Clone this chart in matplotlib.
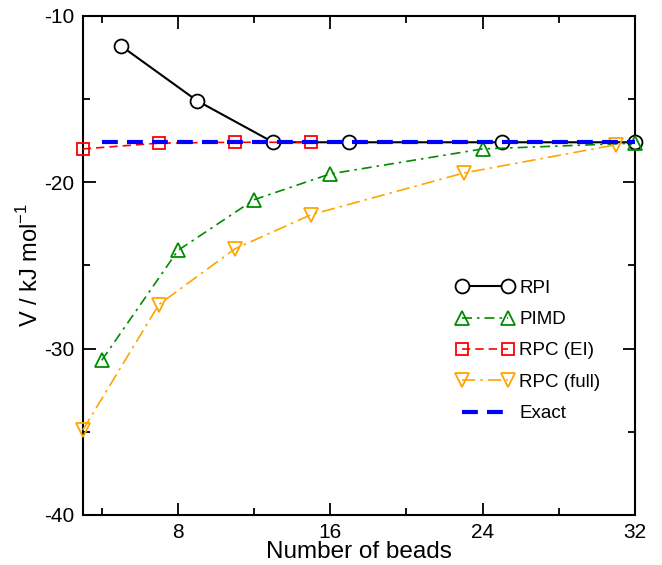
import matplotlib
matplotlib.use("Agg")
import matplotlib.pyplot as plt
from matplotlib.ticker import MultipleLocator

plt.rcParams["font.family"] = ["Liberation Sans", "DejaVu Sans"]
plt.rcParams["font.size"] = 14
plt.rcParams["axes.unicode_minus"] = False

# Data
rpi_x = [5, 9, 13, 17, 25, 32]
rpi_y = [-11.8, -15.1, -17.6, -17.6, -17.6, -17.6]

pimd_x = [4, 8, 12, 16, 24, 32]
pimd_y = [-30.7, -24.1, -21.05, -19.5, -18.0, -17.65]

rpc_ei_x = [3, 7, 11, 15]
rpc_ei_y = [-18.0, -17.65, -17.6, -17.6]

rpc_full_x = [3, 7, 11, 15, 23, 31]
rpc_full_y = [-34.9, -27.35, -24.0, -21.95, -19.45, -17.75]

exact_x = [4, 32]
exact_y = [-17.6, -17.6]

fig = plt.figure(figsize=(6.62, 5.65), dpi=100)
ax = fig.add_axes([0.125, 0.0885, 0.834, 0.8835])

ax.plot(rpi_x, rpi_y, color="black", lw=1.5, marker="o", ms=10,
        mfc="white", mec="black", mew=1.3, label="RPI", zorder=3, clip_on=False)
ax.plot(pimd_x, pimd_y, color="#008c00", lw=1.2, ls=(0, (6, 3, 1.5, 3)),
        marker="^", ms=10, mfc="none", mec="#008c00", mew=1.3, label="PIMD",
        zorder=3, clip_on=False)
ax.plot(rpc_ei_x, rpc_ei_y, color="#ff0000", lw=1.2, ls=(0, (5, 3)),
        marker="s", ms=9, mfc="none", mec="#ff0000", mew=1.3, label="RPC (EI)",
        zorder=3, clip_on=False)
ax.plot(rpc_full_x, rpc_full_y, color="#ffa500", lw=1.2, ls=(0, (8, 3, 1.5, 3)),
        marker="v", ms=10, mfc="none", mec="#ffa500", mew=1.3, label="RPC (full)",
        zorder=3, clip_on=False)
ax.plot(exact_x, exact_y, color="#0000ff", lw=3, ls=(0, (3.8, 2.2)),
        label="Exact", zorder=4)

ax.set_xlim(3, 32)
ax.set_ylim(-40, -10)
ax.xaxis.set_major_locator(MultipleLocator(8))
ax.xaxis.set_minor_locator(MultipleLocator(4))
ax.yaxis.set_major_locator(MultipleLocator(10))
ax.yaxis.set_minor_locator(MultipleLocator(5))
ax.tick_params(which="both", direction="in", top=True, right=True, width=1.3)
ax.tick_params(which="major", length=9, labelsize=15, pad=6)
ax.tick_params(which="minor", length=5)
for s in ax.spines.values():
    s.set_linewidth(1.5)

ax.set_xlabel("Number of beads", fontsize=17.5, labelpad=-1)
ax.set_ylabel("V / kJ mol$^{\\mathregular{-1}}$", fontsize=17, labelpad=1)

ax.legend(loc="upper left", bbox_to_anchor=(0.664, 0.535),
          bbox_transform=fig.transFigure, frameon=False,
          numpoints=2, handlelength=3.05, fontsize=13.5, labelspacing=0.76,
          handletextpad=0.3, borderpad=0.4)

fig.savefig("out.png", dpi=100)
